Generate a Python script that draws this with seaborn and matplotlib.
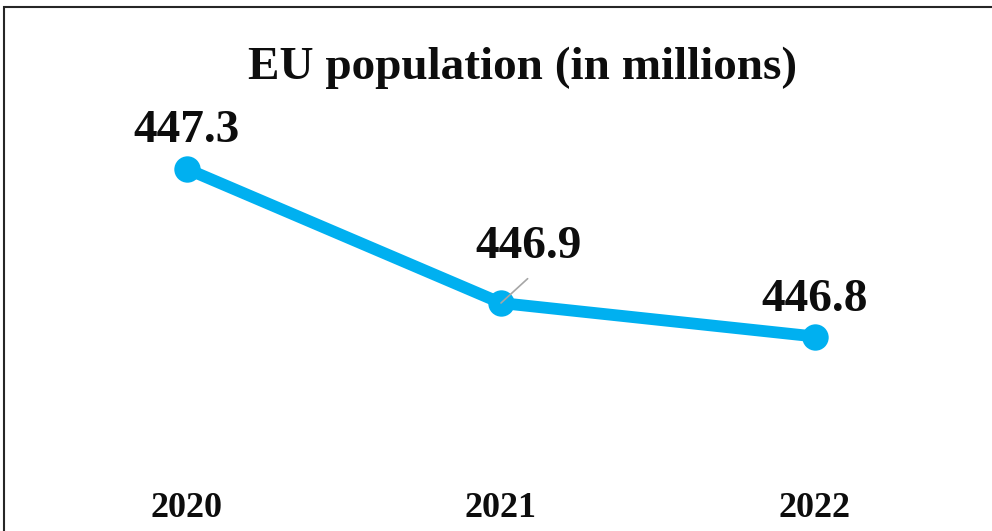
import matplotlib
matplotlib.use("Agg")
import matplotlib.pyplot as plt
import seaborn as sns
import pandas as pd
from matplotlib.patches import Rectangle

years = [2020, 2021, 2022]
population = [447.3, 446.9, 446.8]
labels = ["447.3", "446.9", "446.8"]
title = "EU population (in millions)"

sns.set_theme(style="white")
plt.rcParams['font.family'] = ['Liberation Serif', 'DejaVu Serif']

W, H = 992, 531
fig = plt.figure(figsize=(W / 100, H / 100), dpi=100)
fig.patch.set_facecolor("white")

ax = fig.add_axes([30 / W, (H - 500) / H, 942 / W, 400 / H])
df = pd.DataFrame({"year": years, "pop": population})
sns.lineplot(data=df, x="year", y="pop", ax=ax, color="#00B0F0", lw=8.5,
             marker="o", markersize=19, markeredgewidth=0, solid_capstyle="round")

ax.set_xlim(2019.5, 2022.5)
ax.set_ylim(446.312, 447.506)
ax.set_xticks(years)
ax.set_xticklabels([str(y) for y in years], fontsize=26, fontweight="bold",
                   color="#0d0d0d")
ax.set_yticks([])
ax.tick_params(axis="x", length=0, pad=-6)
ax.set_xlabel("")
ax.set_ylabel("")
for s in ax.spines.values():
    s.set_visible(False)
ax.patch.set_alpha(0)

offsets = [(0, 19.5), (20, 32.5), (0, 18.7)]
for i, (x, y, lab) in enumerate(zip(years, population, labels)):
    kw = {}
    if i == 1:
        kw["arrowprops"] = dict(arrowstyle="-", color="#A6A6A6", lw=1.2,
                                shrinkA=8, shrinkB=0, relpos=(0.6, 0.0))
    ax.annotate(lab, xy=(x, y), xytext=offsets[i], textcoords="offset points",
                ha="center", va="baseline", fontsize=34, fontweight="bold",
                color="#0d0d0d", **kw)

fig.text(523 / W, (H - 79) / H, title, ha="center", va="baseline",
         fontsize=34, fontweight="bold", color="#0d0d0d")

fig.patches.append(Rectangle((4 / W, -0.2), 1.2, 1.2 - 7 / H, transform=fig.transFigure,
                             fill=False, edgecolor="#262626", lw=1.5))

fig.savefig("out.png", dpi=100, facecolor="white")
